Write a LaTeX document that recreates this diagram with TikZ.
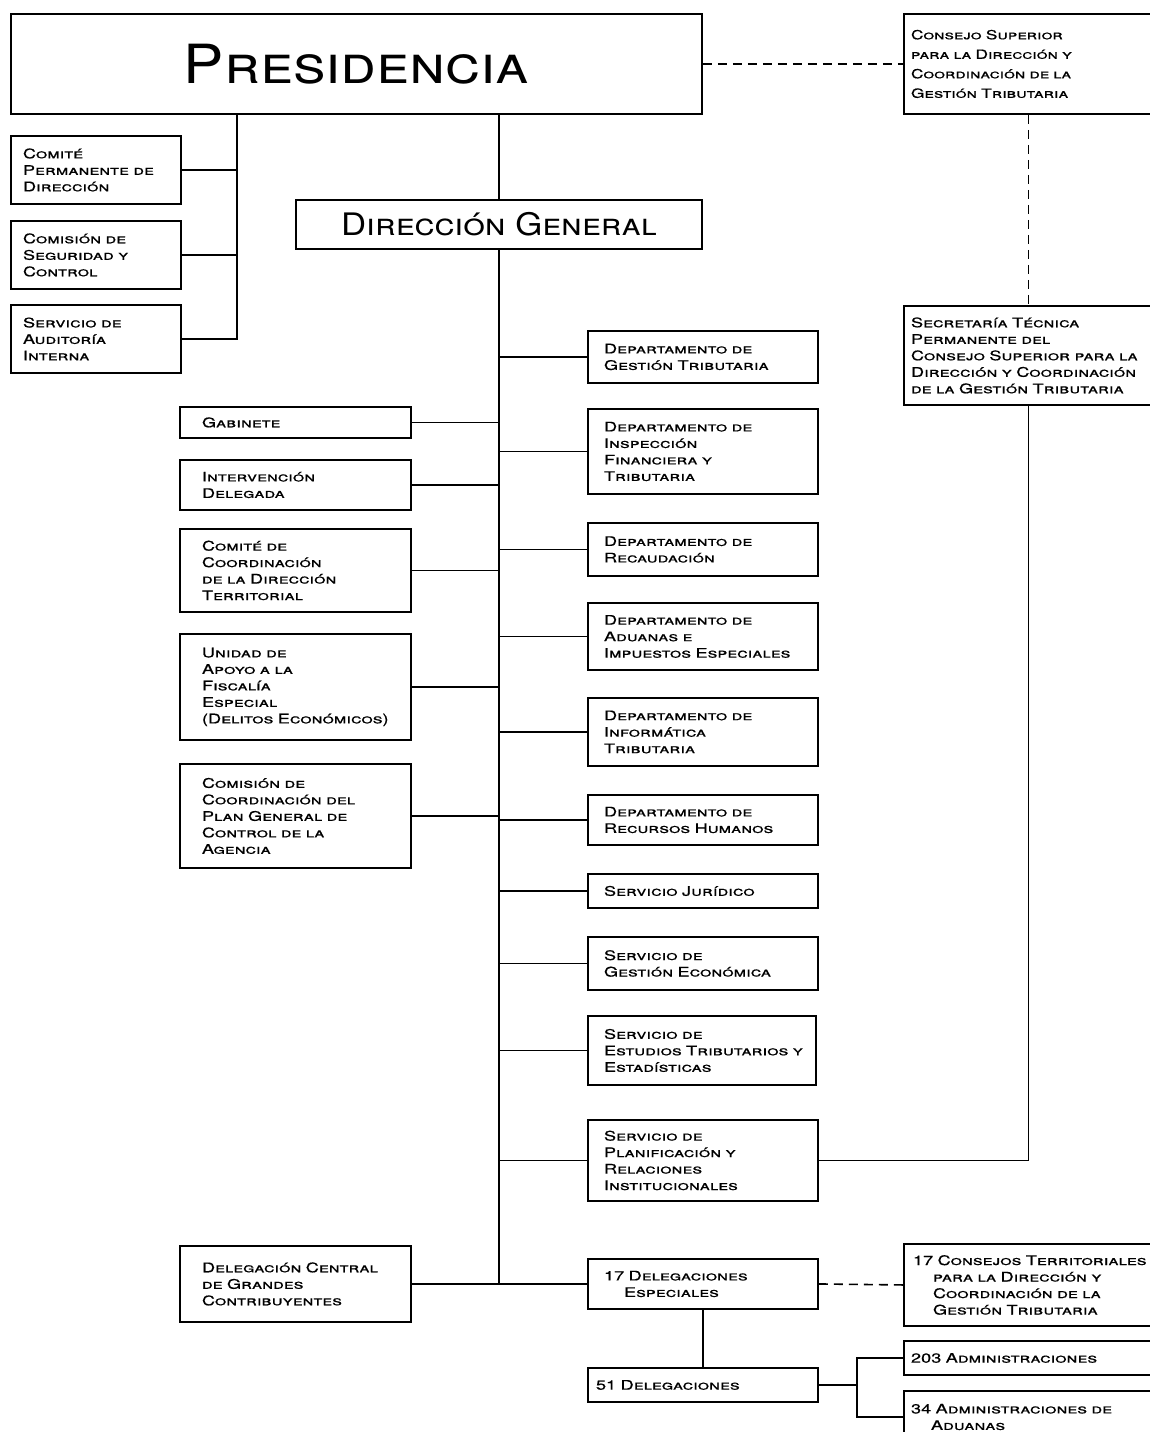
\documentclass[tikz,border=0pt]{standalone}
\usepackage{fontspec}
\newfontfamily\orgfont[Letters=SmallCaps,FakeStretch=1.38,FakeBold=0.6]{TeX Gyre Heros}
\newfontfamily\headfont[Letters=SmallCaps,FakeStretch=1.12]{TeX Gyre Heros}
\usetikzlibrary{positioning}
\tikzset{
  unit/.style ={draw, line width=1.9pt, align=left, anchor=north west, font=\orgfont\fontsize{13.2}{16.5}\selectfont, inner ysep=2pt},
  small/.style={unit, inner xsep=12pt, text width=146pt},
  lcol/.style ={unit, inner xsep=22pt, text width=187pt},
  rcol/.style ={unit, inner xsep=16pt, text width=198pt},
  side/.style ={unit, inner xsep=7pt, text width=235pt},
  head/.style ={draw, line width=1.9pt, anchor=north west},
  link/.style ={line width=1.8pt},
  dlink/.style={line width=1.6pt, dash pattern=on 9pt off 6pt},
}
\newcommand{\ind}{\hspace*{20pt}}
\begin{document}
\begin{tikzpicture}[x=1pt,y=-1pt]
  \useasboundingbox (0,0) rectangle (1149,1432);
  % top level
  \node[head, minimum width=691pt, minimum height=100pt,
        font=\headfont\fontsize{54}{60}\selectfont] (pres) at (10,13) {Presidencia};
  \node[side, minimum height=100pt, font=\orgfont\fontsize{12.6}{19.5}\selectfont] (csup) at (903,13)
    {Consejo Superior\\para la Dirección y\\Coordinación de la\\Gestión Tributaria};
  \node[head, minimum width=406pt, minimum height=49pt,
        font=\headfont\fontsize{31}{34}\selectfont] (dg) at (295,199) {Dirección General};
  \node[side, minimum height=99pt] (sec) at (903,305)
    {Secretaría Técnica\\Permanente del\\Consejo Superior para la\\Dirección y Coordinación\\de la Gestión Tributaria};
  % bodies attached to the presidency
  \node[small, minimum height=68pt] (cpd) at (10,135) {Comité\\Permanente de\\Dirección};
  \node[small, minimum height=68pt] (csc) at (10,220) {Comisión de\\Seguridad y\\Control};
  \node[small, minimum height=68pt] (aud) at (10,304) {Servicio de\\Auditoría\\Interna};
  % left column
  \node[lcol, minimum height=31pt]  (gab) at (179,406) {Gabinete};
  \node[lcol, minimum height=50pt]  (int) at (179,459) {Intervención\\Delegada};
  \node[lcol, minimum height=83pt]  (cct) at (179,528) {Comité de\\Coordinación\\de la Dirección\\Territorial};
  \node[lcol, minimum height=106pt] (ufe) at (179,633) {Unidad de\\Apoyo a la\\Fiscalía\\Especial\\(Delitos Económicos)};
  \node[lcol, minimum height=104pt] (cpg) at (179,763) {Comisión de\\Coordinación del\\Plan General de\\Control de la\\Agencia};
  \node[lcol, minimum height=76pt]  (dgc) at (179,1245) {Delegación Central\\de Grandes\\Contribuyentes};
  % right column
  \node[rcol, minimum height=52pt] (dgt) at (587,330)  {Departamento de\\Gestión Tributaria};
  \node[rcol, minimum height=85pt] (dif) at (587,408)  {Departamento de\\Inspección\\Financiera y\\Tributaria};
  \node[rcol, minimum height=53pt] (drc) at (587,522)  {Departamento de\\Recaudación};
  \node[rcol, minimum height=67pt] (dad) at (587,602)  {Departamento de\\Aduanas e\\Impuestos Especiales};
  \node[rcol, minimum height=68pt] (dit) at (587,697)  {Departamento de\\Informática\\Tributaria};
  \node[rcol, minimum height=50pt] (drh) at (587,794)  {Departamento de\\Recursos Humanos};
  \node[rcol, minimum height=34pt] (sju) at (587,873)  {Servicio Jurídico};
  \node[rcol, minimum height=53pt] (sge) at (587,936)  {Servicio de\\Gestión Económica};
  \node[rcol, minimum height=69pt, inner xsep=8pt, text width=212pt] (set) at (587,1015)
    {\hspace*{8pt}Servicio de\\\hspace*{8pt}Estudios Tributarios y\\\hspace*{8pt}Estadísticas};
  \node[rcol, minimum height=81pt] (spr) at (587,1119) {Servicio de\\Planificación y\\Relaciones\\Institucionales};
  \node[rcol, minimum height=50pt] (dele) at (587,1258) {17 Delegaciones\\\ind Especiales};
  \node[rcol, minimum height=34pt, inner xsep=8pt, text width=214pt] (d51) at (587,1367) {51 Delegaciones};
  % territorial level
  \node[side, minimum height=82pt, inner xsep=9pt] (cter) at (903,1243)
    {17 Consejos Territoriales\\\ind para la Dirección y\\\ind Coordinación de la\\\ind Gestión Tributaria};
  \node[side, minimum height=34pt] (adm) at (903,1340) {203 Administraciones};
  \node[side, minimum height=52pt] (adu) at (903,1390) {34 Administraciones de\\\ind Aduanas};
  % connectors
  \coordinate (ltrunk) at (237,0);
  \coordinate (fork) at (857,0);
  \draw[link] (pres.south -| ltrunk) -- (aud.east -| ltrunk) -- (aud.east);
  \foreach \n in {cpd,csc} \draw[link] (\n.east) -- (\n.east -| ltrunk);
  \draw[link] (pres.south -| dg.north) -- (dg.north);
  \draw[link] (dg.south) -- (dg.south |- dgc.east);
  \foreach \n in {gab,int,cct,ufe,cpg} \draw[link] (\n.east) -- (\n.east -| dg.south);
  \foreach \n in {dgt,dif,drc,dad,dit,drh,sju,sge,set,spr} \draw[link] (\n.west) -- (\n.west -| dg.south);
  \draw[link] (dgc.east) -- (dele.west);
  \draw[dlink] (pres.east) -- (csup.west);
  \draw[dlink] (csup.south) -- (sec.north);
  \draw[link] (sec.south) -- (sec.south |- spr.east) -- (spr.east);
  \draw[dlink] (dele.east) -- (cter.west);
  \draw[link] (dele.south) -- (d51.north);
  \draw[link] (d51.east) -- (d51.east -| fork);
  \draw[link] (adm.west) -- (adm.west -| fork) -- (adu.west -| fork) -- (adu.west);
\end{tikzpicture}
\end{document}
